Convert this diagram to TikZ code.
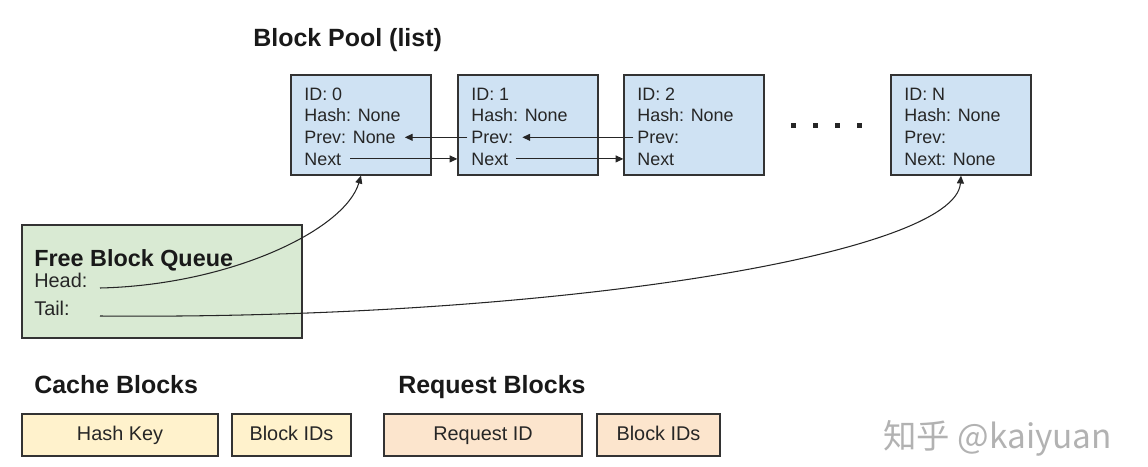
\documentclass[tikz,border=0pt]{standalone}
\usepackage{fontspec}
\setmainfont{Liberation Sans}
\newfontfamily\cjkfont{Noto Sans CJK SC}
\usetikzlibrary{arrows.meta}

\definecolor{poolblue}{HTML}{CFE2F3}
\definecolor{queuegreen}{HTML}{D9EAD3}
\definecolor{cacheyellow}{HTML}{FFF2CC}
\definecolor{reqorange}{HTML}{FCE5CD}
\definecolor{edgegray}{HTML}{333333}

\begin{document}
\begin{tikzpicture}[x=0.02cm, y=-0.02cm,
    blk/.style={draw=edgegray, line width=0.7pt, fill=poolblue, minimum width=2.8cm, minimum height=2cm, inner sep=0},
    txt/.style={anchor=base west, inner sep=0, text=black!85, font=\fontsize{10.2}{12}\selectfont},
    qtxt/.style={anchor=base west, inner sep=0, text=black!85, font=\fontsize{11.3}{13}\selectfont},
    title/.style={anchor=base west, inner sep=0, text=black!90, font=\fontsize{14.2}{17}\selectfont\bfseries},
    cell/.style={draw=edgegray, line width=0.7pt, minimum height=0.84cm, inner sep=0, text height=8.1pt, text depth=2.3pt, text=black!85, font=\fontsize{11.3}{13}\selectfont},
    ptr/.style={-{Triangle[length=4.5pt,width=4pt]}, line width=0.6pt, draw=black!85}]

    \useasboundingbox (0,0) rectangle (1148,466);

    \node[title] (pooltitle) at (253,46.7) {Block Pool (list)};

    \foreach \i/\x/\prv/\nxt in {0/291/Prev: None/Next, 1/458/Prev:/Next, 2/624/Prev:/Next, N/891/Prev:/Next: None} {
        \node[blk] (b\i) at (\x+70,125) {};
        \node[txt] (id\i) at (\x+13,100) {ID: \i};
        \node[txt] (hash\i) at (\x+13,121.7) {Hash: None};
        \node[txt] (prev\i) at (\x+13,143.4) {\prv};
        \node[txt] (next\i) at (\x+13,165) {\nxt};
    }

    \foreach \x in {793,815,837,859}
    \fill[black!85] (\x-2.5,122.5) rectangle ++(5,5);

    \draw[ptr, shorten <=2pt, shorten >=5pt] (prev1.west) -- (prev1.west -| prev0.east);
    \draw[ptr, shorten <=2pt, shorten >=5pt] (prev2.west) -- (prev2.west -| prev1.east);
    \draw[ptr, shorten <=5pt] (next0.east) -- (next0.east -| b1.west);
    \draw[ptr, shorten <=4pt] (next1.east) -- (next1.east -| b2.west);

    \node[draw=edgegray, line width=0.7pt, fill=queuegreen, minimum width=5.6cm, minimum height=2.26cm] (fbq) at (162,281.5) {};
    \node[title, font=\fontsize{13.3}{16}\selectfont\bfseries] (fbqtitle) at (34,266) {Free Block Queue};
    \node[qtxt] (head) at (34,287) {Head:};
    \node[qtxt] (tail) at (34,315) {Tail:};
    \coordinate (hd) at (100,288);
    \coordinate (tl) at (100,316);

    \draw[ptr] (hd) .. controls (230,285) and (345,230) .. (b0.south);
    \draw[ptr] (tl) .. controls (550,320) and (955,255) .. (bN.south);

    \node[title] (cachetitle) at (34,393) {Cache Blocks};
    \node[cell, fill=cacheyellow, minimum width=3.92cm] (hashkey) at (120,435) {Hash Key};
    \node[cell, fill=cacheyellow, minimum width=2.38cm] (cacheids) at (291.5,435) {Block IDs};

    \node[title] (reqtitle) at (398,393) {Request Blocks};
    \node[cell, fill=reqorange, minimum width=3.96cm] (reqid) at (483,435) {Request ID};
    \node[cell, fill=reqorange, minimum width=2.46cm] (reqids) at (658.5,435) {Block IDs};

    \node[anchor=west, inner sep=0, text=black!30, font=\fontsize{19}{22}\selectfont] (mark) at (883,438) {\cjkfont 知乎 @kaiyuan};

\end{tikzpicture}
\end{document}
